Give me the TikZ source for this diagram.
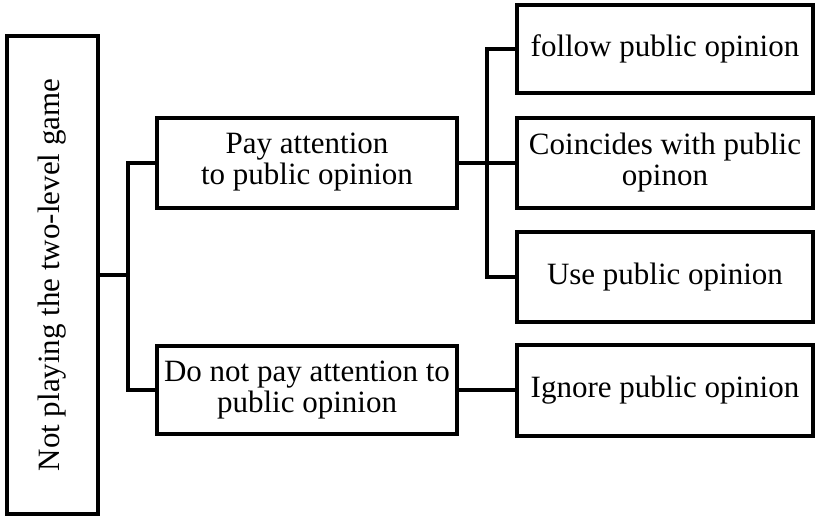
\documentclass[tikz,border=0pt]{standalone}
\usepackage{fontspec}
\setmainfont{Liberation Serif}
\begin{document}
\begin{tikzpicture}[x=1pt,y=-1pt,line width=2pt,
    box/.style={draw, align=center, inner sep=1pt, font=\fontsize{15.5}{15.5}\selectfont}]
        \useasboundingbox (0,0) rectangle (407.5,260);
        \node[box, minimum width=239pt, minimum height=45.5pt, rotate=90] (notplay) at (26,137.5) {Not playing the two-level game};
        \node[box, minimum width=150pt, minimum height=45pt] (pay) at (153.5,81.25) {Pay attention\\to public opinion};
        \node[box, minimum width=150pt, minimum height=44pt] (nopay) at (153.5,195) {Do not pay attention to\\public opinion};
        \node[box, minimum width=148pt, minimum height=44pt] (follow) at (332.5,24.5) {follow public opinion};
        \node[box, minimum width=148pt, minimum height=45pt] (coincide) at (332.5,81.25) {Coincides with public\\opinon};
        \node[box, minimum width=148pt, minimum height=45pt] (use) at (332.5,138.5) {Use public opinion};
        \node[box, minimum width=148pt, minimum height=45.5pt] (ignore) at (332.5,195) {Ignore public opinion};
        \coordinate (jl) at (64,137.5);
        \coordinate (jr) at (243.5,81.25);
        \draw (notplay.south) -- (jl);
        \draw (pay.west) -| (jl) |- (nopay.west);
        \draw (pay.east) -- (coincide.west);
        \draw (follow.west) -| (jr) |- (use.west);
        \draw (nopay.east) -- (ignore.west);
    \end{tikzpicture}
\end{document}
